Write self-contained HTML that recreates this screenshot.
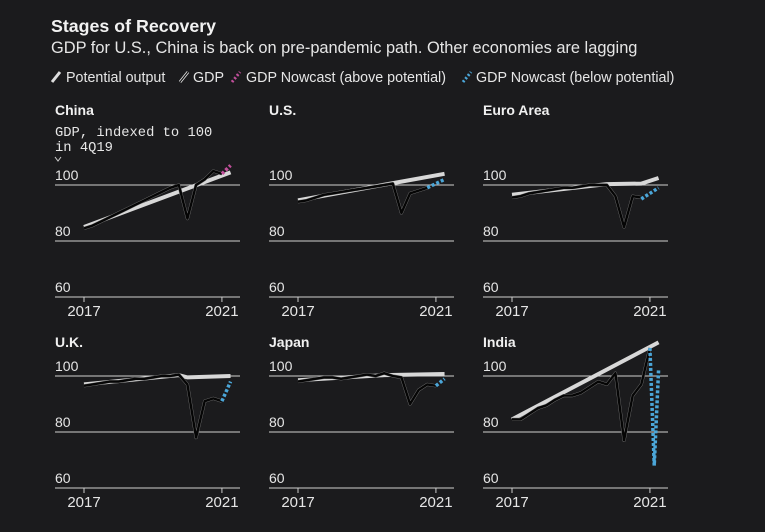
<!DOCTYPE html>
<html><head><meta charset="utf-8"><style>
body{margin:0;background:#1b1b1d;}
svg{display:block;font-family:"Liberation Sans",sans-serif;}
</style></head><body>
<svg id="s" width="765" height="532" viewBox="0 0 765 532">
<rect width="765" height="532" fill="#1b1b1d"/>
<text x="51" y="32" fill="#f2f2f2" font-size="17.8" font-weight="bold">Stages of Recovery</text>
<text x="51" y="53" fill="#e6e6e6" font-size="16.4">GDP for U.S., China is back on pre-pandemic path. Other economies are lagging</text>
<g font-size="14.3" fill="#e6e6e6">
<line x1="52" y1="82" x2="60" y2="72" stroke="#ddd" stroke-width="3"/>
<text x="66" y="82">Potential output</text>
<line x1="180" y1="82" x2="188" y2="72" stroke="#ddd" stroke-width="3"/><line x1="180" y1="82" x2="188" y2="72" stroke="#111" stroke-width="1.2"/>
<text x="193" y="82">GDP</text>
<line x1="232" y1="82" x2="240" y2="72" stroke="#c04f9a" stroke-width="3" stroke-dasharray="2,2"/>
<text x="246" y="82">GDP Nowcast (above potential)</text>
<line x1="463" y1="82" x2="471" y2="72" stroke="#4ba6d8" stroke-width="3" stroke-dasharray="2,2"/>
<text x="476" y="82">GDP Nowcast (below potential)</text>
</g>
<text x="55" y="136" fill="#e6e6e6" font-family="Liberation Mono,monospace" font-size="13.8">GDP, indexed to 100</text>
<text x="55" y="151" fill="#e6e6e6" font-family="Liberation Mono,monospace" font-size="13.8">in 4Q19</text>
<path d="M55 157 l3 4 l3 -4" stroke="#ccc" fill="none"/>
<g id="g"></g>
</svg>
<script>
var C=[
 {n:"China",c:0,r:0,pot:[[0,85],[17,104.5]],gdp:[84.5,85.5,87,88.5,90,91.5,93,94.5,96,97.5,99,100,88,100,102,105,104],now:[[16,104],[17,107]],nc:"#c04f9a"},
 {n:"U.S.",c:1,r:0,pot:[[0,94.5],[17,104]],gdp:[94,94.5,95.5,96.5,97,97.5,98,98.5,99,99.5,100,100.5,90,97,98,99],now:[[15,99],[17,102]],nc:"#4ba6d8"},
 {n:"Euro Area",c:2,r:0,pot:[[0,96.5],[11,100.3],[15,100.5],[17,102.5]],gdp:[95.5,96,97,97.5,98,98.5,99,99,99.5,100,100,100,96,85,96,95.5],now:[[15,95],[17,99]],nc:"#4ba6d8"},
 {n:"U.K.",c:0,r:1,pot:[[0,97],[11,100.3],[12,99.5],[17,100]],gdp:[96.5,97,97.5,98,98,98.5,99,99,99.5,100,100,100.5,97,78,91,92,91],now:[[16,91],[17,98]],nc:"#4ba6d8"},
 {n:"Japan",c:1,r:1,pot:[[0,98.5],[10,100.3],[17,100.7]],gdp:[98,98.5,99,99.5,99.5,99,99.5,100,100.5,100,101,100,99.5,90,95,97,96.5],now:[[16,96.5],[17,99]],nc:"#4ba6d8"},
 {n:"India",c:2,r:1,pot:[[0,84.5],[17,112]],gdp:[84.5,84.5,86.5,88.5,89.5,91.5,93,93,94,96,98,97,101,77,93,97,110],now:[[16,110],[16.5,68],[17,102]],nc:"#4ba6d8"}
];
var h="";
C.forEach(function(p){
 var ox=p.c*214, y100=p.r?376:185;
 var X=function(q){return 84+ox+q*8.62}, Y=function(v){return y100-(v-100)*2.8};
 h+='<text x="'+(55+ox)+'" y="'+(p.r?347:115)+'" fill="#f0f0f0" font-size="14" font-weight="bold">'+p.n+'</text>';
 [100,80,60].forEach(function(v){
  h+='<line x1="'+(55+ox)+'" x2="'+(240+ox)+'" y1="'+Y(v)+'" y2="'+Y(v)+'" stroke="#d0d0d0" stroke-width="1"/>';
  h+='<text x="'+(55+ox)+'" y="'+(Y(v)-5)+'" fill="#e6e6e6" font-size="14">'+v+'</text>';
 });
 var b=Y(60);
 h+='<line x1="'+X(0)+'" x2="'+X(0)+'" y1="'+b+'" y2="'+(b+5)+'" stroke="#ccc"/><line x1="'+X(16)+'" x2="'+X(16)+'" y1="'+b+'" y2="'+(b+5)+'" stroke="#ccc"/>';
 h+='<text x="'+X(0)+'" y="'+(b+19)+'" fill="#e6e6e6" font-size="15" text-anchor="middle">2017</text>';
 h+='<text x="'+X(16)+'" y="'+(b+19)+'" fill="#e6e6e6" font-size="15" text-anchor="middle">2021</text>';
 var pp=p.pot.map(function(a){return X(a[0])+','+Y(a[1])}).join(' ');
 h+='<polyline points="'+pp+'" fill="none" stroke="#d8d8d8" stroke-width="4"/>';
 var gp=p.gdp.map(function(v,i){return X(i)+','+Y(v)}).join(' ');
 h+='<polyline points="'+gp+'" fill="none" stroke="#777" stroke-width="3.2" stroke-linejoin="round"/>';
 h+='<polyline points="'+gp+'" fill="none" stroke="#050505" stroke-width="2.4" stroke-linejoin="round"/>';
 var np=p.now.map(function(a){return X(a[0])+','+Y(a[1])}).join(' ');
 h+='<polyline points="'+np+'" fill="none" stroke="'+p.nc+'" stroke-width="3.5" stroke-dasharray="3,2"/>';
});
document.getElementById("g").innerHTML=h;
</script>
</body></html>
